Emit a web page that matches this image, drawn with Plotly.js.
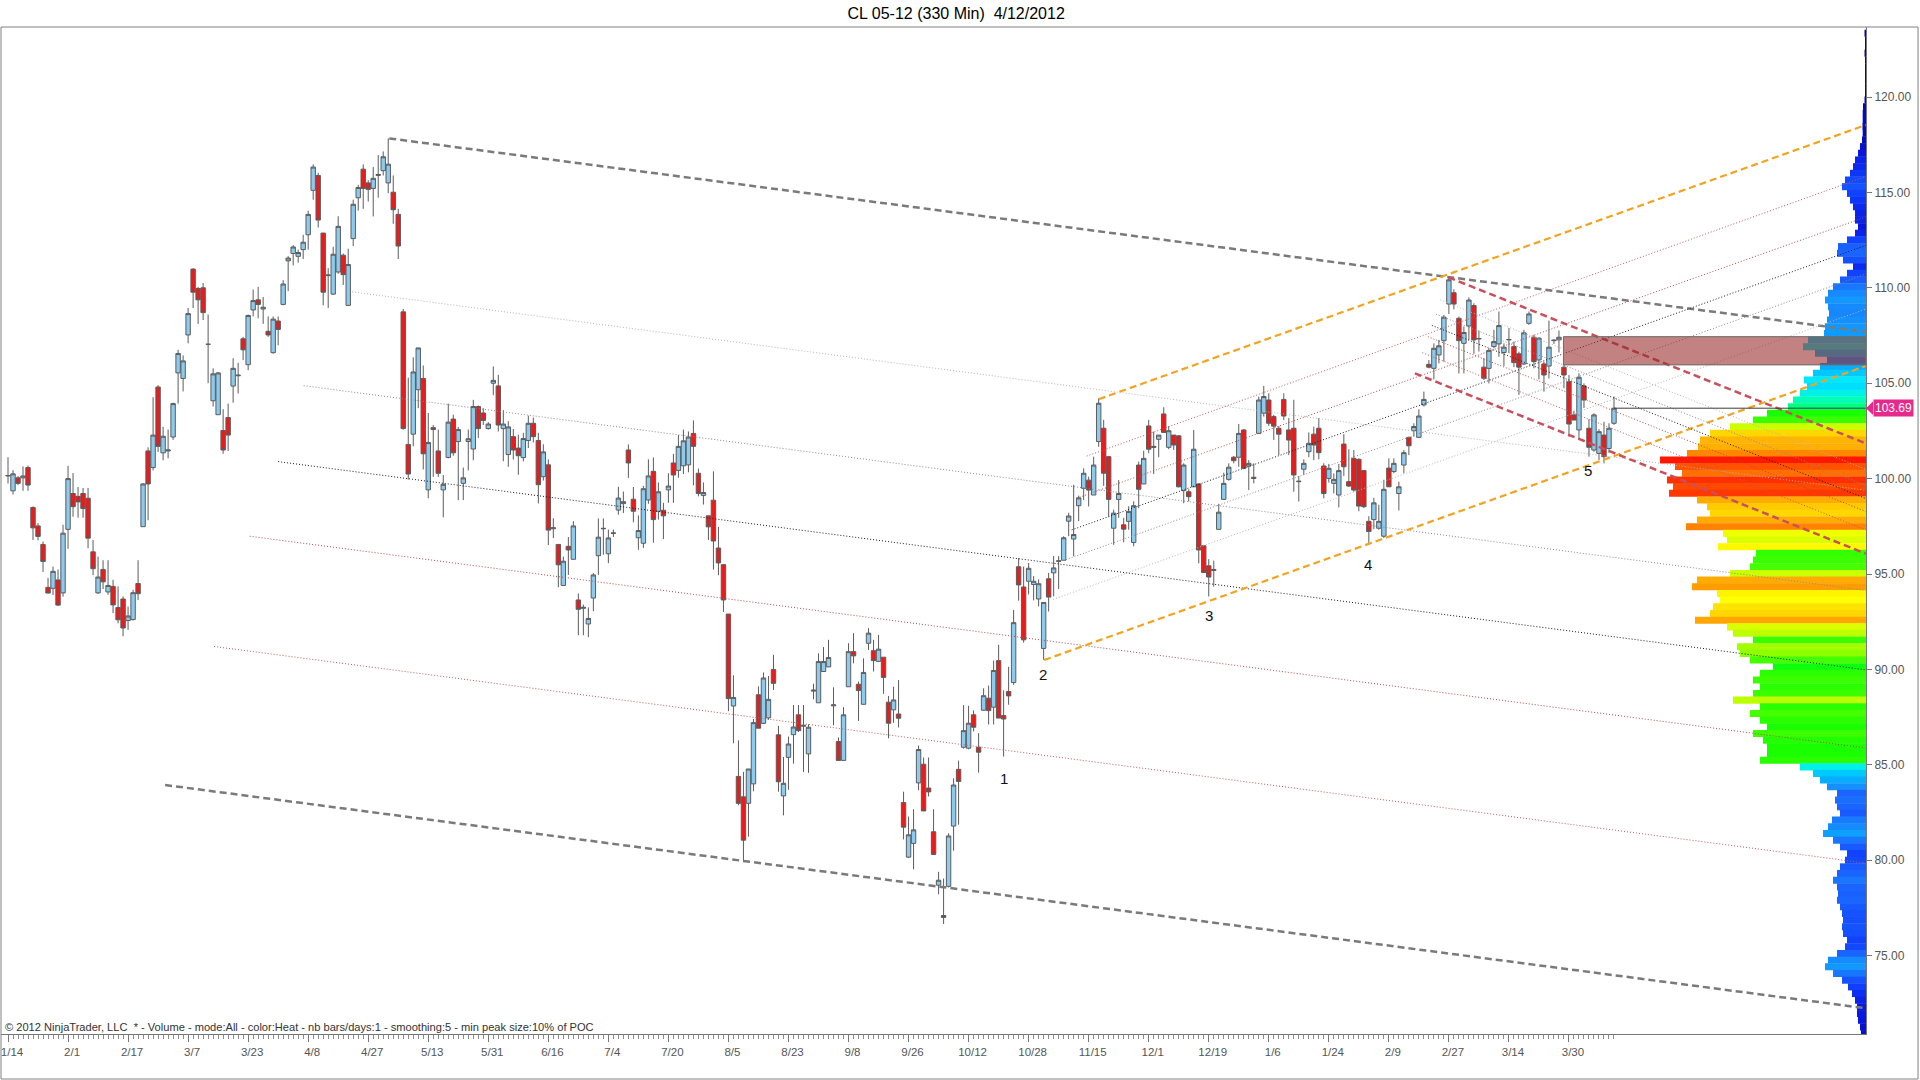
<!DOCTYPE html>
<html>
<head>
<meta charset="utf-8">
<script src="https://cdn.plot.ly/plotly-3.0.1.min.js"></script>
<style>
html,body{margin:0;padding:0;background:#ffffff;}
#chart{width:1920px;height:1080px;}
</style>
</head>
<body>
<div id="chart"></div>
<script>
// ---------------- DATA ----------------
const dateLabels = ['1/14','2/1','2/17','3/7','3/23','4/8','4/27','5/13','5/31','6/16','7/4','7/20','8/5','8/23','9/8','9/26','10/12','10/28','11/15','12/1','12/19','1/6','1/24','2/9','2/27','3/14','3/30'];
const labelBars = [0,12,24,36,48,60,72,84,96,108,120,132,144,156,168,180,192,204,216,228,240,252,264,276,288,300,312];

const openP = [
100.14,99.36,100.04,100.04,100.58,98.49,97.52,96.55,94.30,94.25,
94.69,94.01,97.34,99.22,99.07,99.22,98.97,96.16,94.01,95.24,
94.06,94.35,93.24,93.69,92.56,92.61,94.50,97.48,101.45,100.58,
104.80,101.35,101.45,102.18,105.54,105.25,107.53,110.98,109.96,110.00,
107.04,104.08,103.35,102.52,103.20,104.85,105.39,107.33,105.97,108.84,
109.37,108.89,107.72,106.60,108.26,109.13,111.41,111.80,111.65,112.00,
112.78,115.11,115.89,112.87,110.64,109.67,110.83,111.71,109.08,112.58,
114.72,116.22,115.50,115.21,115.89,116.14,115.50,115.01,113.85,108.74,
101.79,102.33,104.66,105.25,99.41,102.67,101.45,99.41,101.11,103.12,
101.94,99.75,101.94,101.55,103.78,103.44,102.62,105.00,104.86,102.62,
101.26,102.20,101.60,101.10,102.00,102.90,102.00,100.10,100.72,97.37,
96.55,94.40,96.45,95.77,93.64,93.20,92.38,93.74,95.96,97.37,
96.06,97.13,98.35,98.69,101.50,98.92,96.90,96.61,98.88,100.38,
98.29,98.34,99.41,100.82,100.43,100.67,100.72,102.37,100.28,99.12,
98.05,98.87,96.36,95.49,92.90,88.08,84.39,83.32,82.98,84.00,
88.67,87.17,87.46,90.00,86.57,83.37,85.39,86.58,87.62,87.02,
85.57,88.86,88.25,89.89,90.13,88.09,86.22,85.23,89.09,90.93,
89.22,88.17,91.37,90.98,90.42,90.64,88.28,87.88,87.66,83.02,
80.16,80.88,84.05,85.03,83.78,81.49,78.69,77.10,78.63,81.79,
84.76,85.92,85.87,87.62,85.92,87.86,88.49,88.02,90.46,87.58,
88.84,89.31,95.38,94.32,94.62,94.45,93.69,91.10,94.75,95.06,
95.69,95.72,97.77,96.83,98.58,99.49,99.92,99.14,101.94,102.64,
101.15,97.40,98.91,97.58,97.76,96.65,100.71,99.72,102.76,101.69,
102.06,103.39,101.64,102.28,102.24,99.37,99.31,99.57,99.72,96.48,
95.43,95.24,97.34,98.91,99.96,101.12,101.12,102.55,100.66,100.07,
102.37,103.43,104.12,103.25,102.64,104.15,102.55,102.64,99.84,100.49,
101.41,102.33,102.64,100.66,100.01,99.75,99.14,101.81,99.84,101.06,
101.01,100.42,97.76,97.85,97.40,96.98,100.55,100.37,99.22,100.71,
102.16,102.51,102.16,103.86,105.99,105.78,106.48,107.23,109.15,109.74,
108.40,107.09,108.00,109.07,107.32,105.84,105.78,106.92,107.06,106.61,
107.27,106.92,106.54,106.01,108.14,107.41,106.22,106.01,105.90,107.23,
107.27,105.84,105.08,103.34,102.55,104.86,102.64,101.50,101.32,102.28,
101.58,102.90];

const highP = [
101.12,100.44,100.14,100.64,100.68,98.54,97.67,96.70,94.80,95.39,
95.24,97.58,100.67,100.29,99.56,99.51,99.51,96.79,95.91,95.72,
95.72,94.70,94.35,93.83,93.29,94.17,95.72,99.77,101.64,104.27,
104.90,102.71,102.57,103.98,106.75,106.46,108.94,111.03,110.05,110.25,
108.60,105.78,105.59,103.64,103.93,106.31,106.07,107.43,108.60,109.91,
110.05,109.52,108.50,108.50,108.50,110.40,111.66,112.24,112.00,112.78,
114.04,116.47,116.03,112.87,111.03,112.15,113.75,111.80,112.05,114.62,
115.40,116.47,115.64,116.33,116.96,117.15,117.83,115.89,114.14,108.89,
105.29,106.36,106.85,105.93,103.44,102.81,102.57,100.19,103.93,103.35,
102.71,100.58,102.57,104.13,103.83,103.69,102.96,105.88,105.44,103.59,
103.01,102.60,102.30,102.40,103.30,103.20,102.40,101.80,101.01,97.92,
96.55,95.91,96.94,97.77,93.98,93.40,93.25,95.05,97.91,97.91,
97.33,97.33,99.57,99.32,101.79,99.56,98.07,99.62,101.01,101.11,
99.80,98.73,100.28,101.30,102.28,102.57,102.47,103.05,100.53,99.80,
98.05,100.38,97.47,95.49,92.90,89.69,86.28,84.63,84.78,87.40,
89.11,89.84,89.65,90.76,87.04,85.41,86.48,88.13,88.13,88.13,
87.12,89.25,90.84,91.17,91.55,89.06,86.43,88.02,91.37,91.90,
89.36,90.58,92.16,91.55,91.81,90.64,88.61,89.09,89.44,83.59,
82.29,82.67,86.01,85.38,85.38,82.67,79.39,79.04,81.41,84.29,
85.22,88.13,88.09,87.85,86.66,89.01,89.15,90.46,91.29,88.90,
90.13,93.12,95.83,95.39,95.58,94.89,94.72,93.51,95.06,95.94,
95.94,96.98,98.21,99.68,99.11,100.54,100.10,101.15,104.21,103.08,
101.19,98.37,99.92,97.94,98.55,98.81,100.89,101.46,103.08,102.46,
102.28,103.74,102.75,102.28,102.28,100.80,99.44,102.55,99.75,96.53,
95.78,95.70,98.68,100.31,100.80,101.19,102.86,102.59,100.97,100.80,
104.30,104.86,104.47,103.34,102.76,104.47,103.17,104.13,100.14,101.01,
102.42,102.72,103.17,100.80,100.77,100.27,100.77,102.33,101.54,101.50,
101.06,100.42,98.03,98.99,98.63,99.94,101.06,101.06,99.84,101.50,
102.20,102.90,103.63,104.56,106.21,107.09,107.27,108.58,110.55,109.92,
108.49,107.97,109.50,109.19,107.76,106.31,106.83,107.80,108.76,107.09,
107.89,107.18,106.65,107.80,108.76,107.54,107.41,106.13,108.28,107.31,
107.76,105.96,105.43,103.56,105.52,104.99,103.11,103.43,102.59,102.98,
102.90,104.30];

const lowP = [
99.74,99.17,99.66,99.36,99.36,96.78,96.77,95.11,94.00,93.90,
93.32,93.81,96.32,98.00,97.95,97.95,96.35,94.94,93.96,94.21,
93.91,92.95,92.41,91.74,92.07,92.56,93.63,97.48,97.82,100.43,
101.40,100.96,101.06,102.03,103.93,104.57,107.09,108.94,108.11,108.31,
105.00,103.78,103.35,101.30,101.45,103.98,104.46,106.21,105.68,108.50,
108.40,108.11,107.43,106.55,106.99,109.09,109.83,111.17,111.32,111.51,
112.00,114.62,113.16,109.08,108.94,109.62,110.74,110.15,109.04,112.19,
114.04,114.14,114.52,113.74,114.72,115.89,114.96,113.36,111.51,102.57,
99.95,101.69,103.69,100.48,98.97,100.09,100.09,97.97,101.06,101.20,
98.87,98.87,100.43,100.96,102.13,102.81,102.57,104.37,102.47,100.91,
100.62,101.00,100.20,100.90,101.60,101.90,98.70,99.90,96.52,96.88,
94.31,94.40,94.95,95.77,91.79,91.79,91.69,93.05,94.95,96.01,
95.57,96.94,98.11,98.20,100.04,97.71,96.27,96.37,98.68,96.64,
97.85,96.83,98.73,98.73,100.04,100.24,100.33,99.65,99.07,98.64,
96.78,95.23,94.94,93.01,87.81,86.13,82.88,79.92,81.23,83.61,
86.92,87.17,87.36,88.92,83.59,82.35,83.69,85.06,86.72,84.63,
84.58,88.43,88.25,89.89,90.13,87.07,85.23,85.23,89.09,90.32,
87.30,88.17,91.02,89.89,90.42,88.72,86.39,87.20,86.96,81.09,
80.11,79.52,83.67,82.58,83.34,80.30,78.21,76.66,78.57,80.50,
81.86,85.85,85.81,86.75,84.59,87.83,87.11,87.11,87.45,85.43,
88.15,89.19,93.60,91.40,93.93,93.62,93.30,90.50,93.03,93.83,
94.21,95.72,96.98,95.93,97.77,98.88,98.54,99.14,101.67,99.62,
98.01,96.53,97.94,96.66,97.32,96.45,98.45,99.72,101.33,100.24,
101.12,102.42,101.54,101.50,99.54,98.71,98.80,99.57,95.56,95.08,
93.82,94.34,97.34,98.91,99.89,100.80,100.62,100.49,99.40,99.75,
102.37,103.25,102.76,102.02,101.23,103.07,101.23,99.31,98.80,100.19,
101.12,100.97,101.01,98.97,99.79,99.22,98.49,100.14,99.57,99.31,
98.29,98.45,96.63,97.35,97.32,96.89,99.57,100.28,98.33,100.28,
101.23,102.20,102.16,103.78,105.78,105.20,106.04,106.13,108.63,108.87,
105.51,105.51,107.27,106.54,106.66,105.17,104.99,106.83,106.39,105.90,
106.57,105.84,104.39,105.95,108.06,105.78,105.20,104.56,105.25,107.06,
106.61,104.74,102.20,103.07,102.06,103.70,101.15,101.41,100.97,100.80,
101.36,102.82];

const closeP = [
100.16,100.25,99.75,100.14,99.66,97.42,96.97,95.66,94.00,95.14,
93.37,97.14,100.00,98.53,98.78,98.43,96.88,95.28,94.84,94.59,
94.40,93.38,92.60,92.17,92.80,94.02,93.97,99.72,99.72,102.28,
101.69,102.22,101.50,103.93,106.56,106.17,108.65,109.77,109.37,108.70,
107.04,105.49,105.54,101.50,102.28,105.78,105.42,106.75,108.55,109.33,
109.13,108.98,107.53,108.36,107.82,110.20,111.56,112.14,111.85,112.39,
113.85,116.33,113.55,109.77,110.67,111.76,113.22,110.69,111.22,114.38,
115.26,115.21,115.16,115.74,115.94,116.87,116.48,114.09,112.19,102.62,
100.24,105.59,106.85,101.30,101.89,102.57,100.28,99.70,102.96,101.35,
102.57,100.04,102.09,103.78,102.62,103.05,102.86,105.15,102.81,102.86,
102.71,101.50,101.20,102.10,102.90,102.20,99.68,101.40,97.30,97.42,
95.48,95.67,96.26,97.52,93.15,93.25,92.67,94.95,96.93,97.39,
96.89,97.15,98.98,98.79,100.82,98.29,97.28,99.47,100.14,97.85,
99.31,98.05,99.61,100.19,101.69,101.98,102.18,101.69,99.22,99.27,
97.47,96.73,95.58,93.64,88.47,88.53,82.98,81.05,84.78,87.21,
86.92,89.55,88.43,89.27,84.11,84.03,86.09,86.98,86.79,87.07,
86.97,88.91,90.41,90.41,90.62,88.14,85.23,87.62,90.93,90.71,
88.89,89.84,91.90,90.46,91.06,89.58,87.18,88.40,87.44,81.73,
81.33,81.59,85.80,82.58,83.58,80.30,78.95,77.00,81.27,83.94,
84.13,86.79,87.18,86.97,85.66,88.62,87.84,89.94,87.45,87.40,
88.61,92.45,94.43,91.55,95.30,94.62,94.49,93.51,93.79,95.32,
95.67,96.90,98.04,97.07,98.99,100.28,99.40,100.71,103.95,100.28,
98.91,98.19,99.22,97.35,98.28,98.58,99.44,101.06,101.54,101.64,
102.28,102.42,102.51,101.76,99.57,100.71,99.05,101.54,96.26,95.08,
94.84,95.19,98.24,99.75,100.60,100.94,102.37,100.54,100.80,100.01,
104.12,104.30,102.90,102.75,102.33,103.28,102.02,100.19,99.86,100.80,
101.85,101.76,101.36,99.22,100.54,99.96,100.42,100.62,99.61,99.40,
98.56,98.53,97.23,98.73,97.76,99.44,99.57,100.80,99.57,101.36,
101.72,102.73,103.28,104.15,105.84,106.83,106.96,108.46,110.42,109.15,
107.23,107.66,109.36,107.27,107.34,105.26,106.72,107.18,108.02,106.89,
107.29,106.08,105.84,107.64,108.63,106.13,107.36,105.43,106.89,107.25,
107.41,105.43,102.86,103.07,105.31,104.12,101.64,103.34,102.46,101.15,
102.64,103.69];

const lastPrice = 103.69;

// volume profile (price level -> relative volume)
const profilePrice = [
123.34,122.99,122.64,122.29,121.94,121.59,121.24,120.89,120.54,120.19,
119.84,119.49,119.14,118.79,118.45,118.10,117.75,117.40,117.05,116.70,
116.35,116.00,115.65,115.30,114.95,114.60,114.25,113.90,113.55,113.20,
112.86,112.51,112.16,111.81,111.46,111.11,110.76,110.41,110.06,109.71,
109.36,109.01,108.66,108.31,107.96,107.61,107.26,106.91,106.57,106.22,
105.87,105.52,105.17,104.82,104.47,104.12,103.77,103.42,103.07,102.72,
102.37,102.02,101.67,101.32,100.98,100.63,100.28,99.93,99.58,99.23,
98.88,98.53,98.18,97.83,97.48,
97.13,96.78,96.43,96.08,95.73,95.38,95.03,94.68,94.33,93.98,
93.63,93.28,92.93,92.58,92.23,91.89,91.54,91.19,90.84,90.49,
90.14,89.79,89.44,89.09,88.74,88.39,88.04,87.69,87.34,86.99,
86.64,86.29,85.94,85.59,85.24,84.89,84.55,84.20,83.85,83.50,
83.15,82.80,82.45,82.10,81.75,81.40,81.05,80.70,80.35,80.00,
79.65,79.30,78.95,78.60,78.25,77.90,77.56,77.21,76.86,76.51,
76.16,75.81,75.46,75.11,74.76,74.41,74.06,73.71,73.36,73.01,
72.66,72.31,71.96,71.61,71.26,70.91];
const profileVolume = [
1.5,1,1,1.5,1,1,1,1,1,1,
1.5,3,3.3,3.3,3.5,3.3,4,6,8,11,
13,16,21,24,19,16,13,11,11,8,
11,19,28,29,23,13,19,26,33,38,
41,38,37,39,41,42,58,63,51,39,
46,53,62,59,66,73,78,99,113,136,
156,166,168,179,206,191,184,199,193,197,
169,159,156,169,180,
143,139,148,110,113,116,136,169,174,149,
146,153,156,171,139,133,113,129,126,116,
93,106,113,106,113,133,106,116,106,99,
113,103,99,99,106,66,53,46,39,29,
31,29,26,34,38,43,33,26,19,21,
26,29,33,29,28,29,26,24,23,24,
23,19,21,29,38,41,33,24,18,14,
11,9,9,8,6,5];

// drawn channels: start bar / start price / price at right edge
const chartEndBar = 371.3;
const descChanStartBar   = [76.2, 68.2, 59.1, 54.0, 48.3, 41.2, 31.4];
const descChanStartPrice = [117.83, 109.81, 104.87, 100.89, 96.98, 91.20, 83.94];
const descChanEndPrice   = [107.70, 99.39, 94.14, 89.98, 85.88, 79.85, 72.24];

const ascChanStartBar   = [207.1, 208.9, 210.9, 212.6, 213.6, 215.6, 218.0];
const ascChanStartPrice = [90.49, 93.67, 95.70, 97.31, 98.97, 101.18, 104.16];
const ascChanEndPrice   = [105.90, 108.88, 110.72, 112.22, 113.71, 115.83, 118.53];

const smallChanStartBar   = [287.9, 286.3, 285.4, 284.6, 283.8, 282.7, 281.2];
const smallChanStartPrice = [110.55, 109.36, 108.62, 108.03, 107.44, 106.60, 105.52];
const smallChanEndPrice   = [101.85, 100.49, 99.64, 98.96, 98.28, 97.31, 96.07];

const zoneBars = [310.9, 371.3];
const zonePrices = [105.96, 107.44];

const waveLabels = ['1','2','3','4','5'];
const waveBars   = [199.1, 206.9, 240.0, 271.8, 315.8];
const wavePrices = [84.26, 89.71, 92.80, 95.50, 100.45];

// ---------------- STYLES ----------------
const FONT = 'Liberation Sans, Arial, Helvetica, sans-serif';
const DOT = '1px,2px';
const grayDash  = {color:'#7a7a7a', width:2.5, dash:'7px,4px'};
const orangeDash= {color:'#f2a31f', width:2.2, dash:'7px,4px'};
const redDash   = {color:'#c9505a', width:2.5, dash:'7px,4px'};
const lvl236 = {color:'#b4b4b4', width:1, dash:DOT};
const lvl382 = {color:'#8a8a8a', width:1, dash:DOT};
const lvl500 = {color:'#1a1a1a', width:1, dash:DOT};
const lvl618 = {color:'#b04a4a', width:1, dash:DOT};
const lvl786 = {color:'#c25858', width:1, dash:DOT};
const descStyles  = [grayDash, lvl236, lvl382, lvl500, lvl618, lvl786, grayDash];
const ascStyles   = [orangeDash, lvl236, lvl382, lvl500, lvl618, lvl786, orangeDash];
const smallStyles = [redDash, lvl236, lvl382, lvl500, lvl618, lvl786, redDash];

const heatScale = [
 [0,'#0000b0'],[0.04,'#0818e0'],[0.09,'#1040ff'],[0.14,'#1a64ff'],[0.19,'#1690ff'],
 [0.24,'#00bcff'],[0.30,'#00e8ff'],[0.35,'#00ffc0'],[0.40,'#00ff50'],[0.46,'#10ff00'],
 [0.56,'#40ff00'],[0.64,'#b8ff00'],[0.71,'#ffff00'],[0.78,'#ffc400'],[0.84,'#ffa000'],
 [0.90,'#ff6a00'],[0.95,'#ff3c00'],[1,'#ff1800']];

// ---------------- TRACES ----------------
const barIdx = openP.map((_, i) => i);
const traces = [];

traces.push({
  type:'bar', orientation:'h', x: profileVolume, y: profilePrice,
  xaxis:'x', yaxis:'y', width:0.37,
  marker:{color: profileVolume, colorscale: heatScale, cmin:0, cmax:Math.max(...profileVolume), line:{width:0}},
  hoverinfo:'skip', showlegend:false
});

function addChannel(startBar, startPrice, endPrice, styles){
  for (let i = 0; i < startBar.length; i++){
    traces.push({
      type:'scatter', mode:'lines', xaxis:'x2', yaxis:'y',
      x:[startBar[i], chartEndBar], y:[startPrice[i], endPrice[i]],
      line: styles[i], hoverinfo:'skip', showlegend:false
    });
  }
}
addChannel(descChanStartBar, descChanStartPrice, descChanEndPrice, descStyles);
addChannel(ascChanStartBar, ascChanStartPrice, ascChanEndPrice, ascStyles);
addChannel(smallChanStartBar, smallChanStartPrice, smallChanEndPrice, smallStyles);

traces.push({
  type:'scatter', mode:'lines', xaxis:'x2', yaxis:'y',
  x:[barIdx[barIdx.length-1], chartEndBar], y:[lastPrice, lastPrice],
  line:{color:'#3c3c3c', width:1}, hoverinfo:'skip', showlegend:false
});

traces.push({
  type:'candlestick', xaxis:'x2', yaxis:'y',
  x: barIdx, open: openP, high: highP, low: lowP, close: closeP,
  whiskerwidth: 0,
  increasing:{fillcolor:'#8ccbf0', line:{color:'#5c5c5c', width:1}},
  decreasing:{fillcolor:'#ee1a1a', line:{color:'#5c5c5c', width:1}},
  hoverinfo:'skip', showlegend:false
});

// ---------------- LAYOUT ----------------
const annotations = waveLabels.map((t, i) => ({
  xref:'x2', yref:'y', x: waveBars[i], y: wavePrices[i], text: t, showarrow:false,
  font:{family:FONT, size:15, color:'#111111'}
}));
annotations.push({
  xref:'paper', yref:'paper', x:0.001, y:0.007, xanchor:'left', yanchor:'middle', showarrow:false,
  text:'\u00a9 2012 NinjaTrader, LLC \u00a0* - Volume - mode:All - color:Heat - nb bars/days:1 - smoothing:5 - min peak size:10% of POC',
  font:{family:FONT, size:11.1, color:'#333333'}
});
annotations.push({
  xref:'paper', yref:'y', x:1.0037, y:lastPrice, xanchor:'left', yanchor:'middle', showarrow:false,
  text: lastPrice.toFixed(2), bgcolor:'#e8298c', borderpad:1,
  font:{family:FONT, size:12, color:'#ffffff'}
});

const shapes = [
  {type:'rect', xref:'x2', yref:'y', x0:zoneBars[0], x1:zoneBars[1], y0:zonePrices[0], y1:zonePrices[1],
   fillcolor:'rgba(150,40,40,0.58)', line:{color:'#6a6a6a', width:1}, layer:'above'},
  {type:'path', xref:'paper', yref:'y', path:'M 1,'+lastPrice+' L 1.0038,'+(lastPrice+0.36)+' L 1.0038,'+(lastPrice-0.36)+' Z',
   fillcolor:'#e8298c', line:{width:0}, layer:'above'},
  {type:'rect', xref:'paper', yref:'paper', x0:0, x1:1.0279, y0:-0.0447, y1:1,
   fillcolor:'rgba(0,0,0,0)', line:{color:'#808080', width:1}, layer:'above'}
];

const layout = {
  width:1920, height:1080,
  margin:{l:1, r:54, t:27, b:46, pad:0},
  paper_bgcolor:'#ffffff', plot_bgcolor:'#ffffff',
  showlegend:false, hovermode:false,
  boxgap:0.12, boxgroupgap:0,
  font:{family:FONT, color:'#555555'},
  title:{text:'CL 05-12 (330 Min) \u00a04/12/2012', xref:'container', yref:'container',
         x:0.498, y:1-13/1080, xanchor:'center', yanchor:'middle',
         font:{family:FONT, size:16, color:'#000000'}},
  xaxis:{range:[1865, 0], visible:false, fixedrange:true, showgrid:false, zeroline:false},
  xaxis2:{overlaying:'x', anchor:'y', side:'bottom', range:[-1.399, 371.37],
          showgrid:false, zeroline:false, showline:true, linecolor:'#777777', linewidth:1,
          tickmode:'array', tickvals:labelBars, ticktext:dateLabels,
          ticks:'outside', ticklen:7, tickcolor:'#777777', tickwidth:1,
          ticklabelshift:4,
          tickfont:{family:FONT, size:11.5, color:'#555555'},
          minor:{tickmode:'array', tickvals:barIdx, ticks:'outside', ticklen:4, tickcolor:'#8a8a8a', tickwidth:1},
          rangeslider:{visible:false}},
  yaxis:{side:'right', range:[70.89, 123.67], tick0:0, dtick:5, tickformat:'.2f',
         showgrid:false, zeroline:false, showline:true, linecolor:'#777777', linewidth:1,
         ticks:'outside', ticklen:5, tickcolor:'#777777',
         tickfont:{family:FONT, size:12, color:'#555555'}},
  shapes: shapes,
  annotations: annotations
};

Plotly.newPlot('chart', traces, layout, {displayModeBar:false, staticPlot:true});
</script>
</body>
</html>
